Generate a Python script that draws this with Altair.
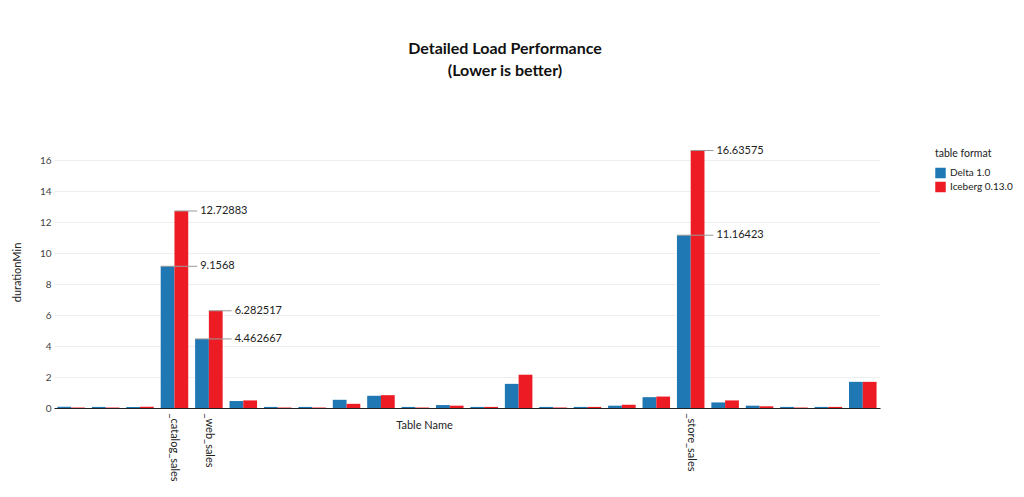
import altair as alt
import pandas as pd

tables = [
    "_call_center", "_catalog_page", "_catalog_returns", "_catalog_sales", "_web_sales",
    "_customer", "_customer_address", "_customer_demographics", "_date_dim",
    "_household_demographics", "_income_band", "_inventory", "_item", "_promotion",
    "_reason", "_ship_mode", "_store", "_store_returns", "_store_sales", "_time_dim",
    "_warehouse", "_web_page", "_web_returns", "_web_site",
]
delta = [0.08, 0.07, 0.07, 9.1568, 4.462667, 0.45, 0.07, 0.07, 0.53, 0.79, 0.07, 0.19,
         0.07, 1.56, 0.07, 0.07, 0.15, 0.70, 11.16423, 0.36, 0.15, 0.07, 0.07, 1.69]
iceberg = [0.03, 0.03, 0.08, 12.72883, 6.282517, 0.49, 0.03, 0.03, 0.27, 0.83, 0.03, 0.15,
           0.07, 2.15, 0.03, 0.07, 0.21, 0.74, 16.63575, 0.49, 0.11, 0.03, 0.07, 1.69]
formats = ["Delta 1.0", "Iceberg 0.13.0"]
colors = ["#1f77b4", "#ed1c24"]
shown_labels = ["_catalog_sales", "_web_sales", "_store_sales"]
y_ticks = [0, 2, 4, 6, 8, 10, 12, 14, 16]

rows = []
for t, d, i in zip(tables, delta, iceberg):
    rows.append({"table": t, "format": formats[0], "value": d})
    rows.append({"table": t, "format": formats[1], "value": i})
df = pd.DataFrame(rows)

ann = df[df["table"].isin(shown_labels)].copy()
ann["label"] = ann["value"].map(str)

FONT = "Lato"
label_expr = "indexof(" + str(shown_labels) + ", datum.value) >= 0 ? datum.value : ''"

x_axis = alt.Axis(
    labelExpr=label_expr, labelAngle=90, labelAlign="left", labelBaseline="middle",
    labelFontSize=11, labelColor="#222", labelPadding=5, ticks=False, grid=False,
    labelOverlap=False, labelLimit=200,
    domainColor="#222", domainWidth=1.2,
    title="Table Name", titleFontSize=11, titleFontWeight="normal", titleColor="#222",
    titleX=370, titleY=11, titleAnchor="middle",
)
x_scale = alt.Scale(paddingInner=0.2, paddingOuter=0.1)
y_axis = alt.Axis(
    values=y_ticks, grid=True, gridColor="#eeeeee", domain=False, ticks=False,
    labelColor="#444", labelFontSize=10, labelPadding=3, labelOverlap=False,
    title="durationMin", titleFontSize=11, titleFontWeight="normal", titleColor="#222",
    titleX=-32, titleY=135,
)
y_scale = alt.Scale(domain=[0, 17.51], nice=False, zero=True)


def y_enc():
    return alt.Y("value:Q", scale=y_scale, axis=y_axis)


def x_enc(bp):
    return alt.X("table:N", sort=tables, scale=x_scale, axis=x_axis, bandPosition=bp)


bars = alt.Chart(df).mark_bar().encode(
    x=alt.X("table:N", sort=tables, scale=x_scale, axis=x_axis),
    xOffset=alt.XOffset("format:N", sort=formats, scale=alt.Scale(paddingInner=0, paddingOuter=0)),
    y=y_enc(),
    color=alt.Color(
        "format:N", sort=formats,
        scale=alt.Scale(domain=formats, range=colors),
        legend=alt.Legend(
            title="table format", orient="none", legendX=881, legendY=12,
            symbolType="square", symbolSize=110, symbolStrokeWidth=0,
            titleFontSize=10.5, titleFontWeight="normal", titleColor="#222",
            labelFontSize=10, labelColor="#222", rowPadding=3, titlePadding=8,
            labelLimit=200,
        ),
    ),
)

rule_blue = alt.Chart(ann[ann["format"] == formats[0]]).mark_rule(
    color="#999999", strokeWidth=1, x2Offset=9).encode(
    x=x_enc(0),
    x2=alt.X2("table", bandPosition=1),
    y=y_enc(),
)
rule_red = alt.Chart(ann[ann["format"] == formats[1]]).mark_rule(
    color="#999999", strokeWidth=1, x2Offset=9).encode(
    x=x_enc(0.5),
    x2=alt.X2("table", bandPosition=1),
    y=y_enc(),
)
texts = alt.Chart(ann).mark_text(
    align="left", baseline="middle", fontSize=11, color="#222", font=FONT, dx=12).encode(
    x=x_enc(1),
    y=y_enc(),
    text="label:N",
)

chart = alt.layer(bars, rule_blue, rule_red, texts).properties(
    width=826, height=271,
    padding={"left": 46, "top": 129, "right": 136, "bottom": 81},
    autosize=alt.AutoSizeParams(type="none"),
    title=alt.Title(
        ["Detailed Load Performance", "(Lower is better)"],
        font="Lato", fontSize=16, fontWeight="bold", color="#111",
        anchor="middle", dx=38, offset=58, lineHeight=22,
    ),
).configure(font=FONT).configure_view(stroke=None)

chart.save("out.html", embed_options={"renderer": "svg", "actions": False})
